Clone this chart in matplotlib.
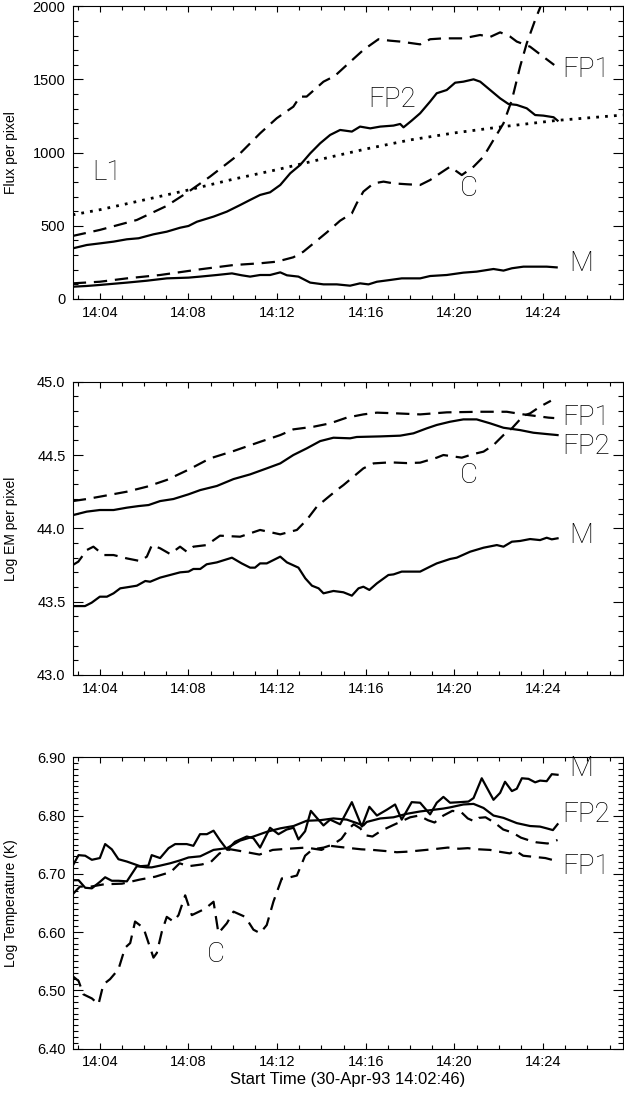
import matplotlib
matplotlib.use('Agg')
import matplotlib.pyplot as plt
from matplotlib.ticker import MultipleLocator, FixedLocator, FixedFormatter

# time axis: minutes after 14:00 UT (start 14:02:46)
X_RANGE = (2.767, 27.58)
TICK_MIN = [4, 8, 12, 16, 20, 24]
TICK_LABELS = ['14:04', '14:08', '14:12', '14:16', '14:20', '14:24']

# ---- panel 1: flux per pixel ----
L1_T = [2.77, 4.0, 6.0, 8.0, 10.0, 12.0, 14.4, 16.0, 18.0, 20.0, 22.2, 24.6, 27.6]
L1_FLUX = [575, 610, 677, 745, 818, 884, 970, 1025, 1087, 1135, 1178, 1220, 1257]

FP1_FLUX_T = [2.78, 4.0, 5.67, 7.0, 8.0, 8.97, 10.33, 11.23, 11.98, 12.73, 13.03, 13.33,
              14.09, 14.6, 15.14, 15.89, 16.57, 17.1, 17.55, 18.45, 18.9, 19.5, 20.4,
              21.16, 21.6, 22.06, 22.51, 22.81, 23.41, 24.0, 24.5]
FP1_FLUX = [431, 472, 540, 635, 733, 836, 995, 1132, 1235, 1314, 1383, 1383,
            1485, 1524, 1599, 1702, 1775, 1765, 1759, 1740, 1775, 1781, 1781,
            1804, 1790, 1822, 1793, 1759, 1724, 1656, 1599]

FP2_FLUX_T = [2.78, 3.41, 4.0, 4.62, 5.22, 5.75, 6.42, 7.02, 7.62, 8.0, 8.38, 9.13, 9.73,
              10.33, 10.78, 11.23, 11.68, 12.14, 12.59, 13.04, 13.49, 13.94, 14.39, 14.84,
              15.37, 15.74, 16.2, 16.65, 17.25, 17.55, 17.7, 18.07, 18.45, 18.9, 19.2,
              19.65, 20.03, 20.4, 20.86, 21.16, 21.61, 22.06, 22.43, 22.81, 23.26, 23.64,
              24.01, 24.47, 24.65]
FP2_FLUX = [346, 369, 380, 392, 408, 415, 442, 460, 487, 499, 528, 563, 597,
            642, 677, 711, 729, 779, 859, 916, 995, 1064, 1121, 1155,
            1144, 1178, 1166, 1178, 1185, 1196, 1173, 1219, 1269, 1349, 1406,
            1428, 1478, 1485, 1501, 1485, 1428, 1371, 1333, 1326, 1303, 1257,
            1253, 1242, 1219]

C_FLUX_T = [2.78, 4.0, 5.22, 6.72, 8.53, 10.03, 11.23, 11.98, 12.73, 13.18, 13.64, 14.24,
            14.84, 15.37, 15.59, 15.89, 16.35, 16.8, 17.25, 17.85, 18.45, 18.9, 19.35,
            19.8, 20.33, 20.86, 21.31, 21.76, 22.21, 22.59, 22.96, 23.26, 23.64, 24.0, 24.3]
C_FLUX = [107, 118, 141, 164, 203, 232, 244, 255, 285, 323, 380, 455,
          535, 585, 654, 734, 790, 802, 790, 784, 779, 813, 859,
          904, 847, 904, 973, 1087, 1200, 1360, 1588, 1747, 1907, 2043, 2150]

M_FLUX_T = [2.78, 3.41, 4.0, 5.22, 6.12, 7.02, 8.0, 8.53, 9.28, 9.96, 10.4, 10.78, 11.23,
            11.68, 12.14, 12.44, 12.96, 13.49, 14.09, 14.69, 15.29, 15.74, 16.12, 16.5,
            17.1, 17.62, 18.45, 18.9, 19.65, 20.4, 21.0, 21.76, 22.21, 22.59, 23.11,
            23.71, 24.16, 24.61]
M_FLUX = [84, 89, 96, 112, 125, 141, 146, 153, 164, 175, 162, 153, 164,
          164, 182, 162, 153, 112, 100, 100, 91, 107, 100, 118,
          130, 141, 141, 157, 164, 180, 187, 205, 194, 210, 221,
          221, 221, 216]

# ---- panel 2: log EM per pixel ----
FP1_EM_T = [2.78, 3.41, 4.0, 5.22, 6.12, 7.02, 8.0, 8.97, 10.03, 11.23, 12.14, 12.73,
            13.64, 14.39, 15.14, 15.89, 16.5, 17.4, 18.45, 19.65, 21.16, 22.36, 23.11,
            24.24, 24.5]
FP1_EM = [44.186, 44.2, 44.216, 44.25, 44.284, 44.33, 44.40, 44.477, 44.527, 44.59,
          44.636, 44.675, 44.693, 44.716, 44.755, 44.777, 44.789, 44.784, 44.777,
          44.791, 44.795, 44.795, 44.777, 44.755, 44.752]

FP2_EM_T = [2.78, 3.41, 4.0, 4.62, 5.22, 5.75, 6.2, 6.72, 7.32, 8.0, 8.53, 9.28, 10.03,
            10.78, 11.53, 12.14, 12.73, 13.33, 13.94, 14.54, 15.29, 15.59, 16.65, 17.55,
            18.15, 18.75, 19.2, 19.8, 20.4, 21.0, 21.61, 22.21, 22.96, 23.56, 24.16, 24.65]
FP2_EM = [44.09, 44.114, 44.125, 44.125, 44.141, 44.152, 44.159, 44.186, 44.2, 44.232,
          44.261, 44.289, 44.336, 44.368, 44.409, 44.443, 44.5, 44.545, 44.595, 44.618,
          44.614, 44.623, 44.627, 44.632, 44.648, 44.682, 44.705, 44.727, 44.743,
          44.743, 44.716, 44.686, 44.67, 44.652, 44.643, 44.636]

C_EM_T = [2.78, 3.03, 3.41, 3.71, 4.17, 4.62, 5.22, 5.82, 6.12, 6.35, 6.72, 7.17, 7.62,
          7.92, 8.22, 8.82, 9.42, 10.33, 11.23, 12.14, 12.89, 13.33, 13.79, 14.24, 14.69,
          14.99, 15.44, 15.89, 16.35, 17.1, 17.85, 18.45, 19.2, 19.5, 20.33, 20.86, 21.31,
          21.76, 22.21, 22.59, 23.11, 23.41, 23.86, 24.35]
C_EM = [43.75, 43.773, 43.852, 43.875, 43.818, 43.818, 43.795, 43.777, 43.807, 43.886,
        43.864, 43.825, 43.875, 43.841, 43.875, 43.886, 43.95, 43.943, 43.989, 43.959,
        43.989, 44.057, 44.148, 44.205, 44.261, 44.295, 44.352, 44.409, 44.443, 44.45,
        44.445, 44.448, 44.482, 44.5, 44.482, 44.507, 44.523, 44.568, 44.636, 44.682,
        44.768, 44.784, 44.83, 44.87]

M_EM_T = [2.78, 3.33, 3.63, 4.0, 4.32, 4.62, 4.92, 5.22, 5.67, 6.05, 6.27, 6.72, 7.17,
          7.62, 8.0, 8.22, 8.53, 8.82, 9.28, 9.96, 10.4, 10.78, 11.0, 11.23, 11.53,
          12.14, 12.44, 12.96, 13.27, 13.57, 13.87, 14.09, 14.54, 14.99, 15.37, 15.67,
          15.89, 16.16, 16.5, 17.02, 17.25, 17.62, 18.45, 18.9, 19.2, 19.8, 20.1, 20.71,
          21.31, 21.91, 22.21, 22.59, 22.96, 23.41, 23.86, 24.16, 24.39, 24.65]
M_EM = [43.47, 43.47, 43.493, 43.534, 43.534, 43.557, 43.591, 43.598, 43.609, 43.641,
        43.636, 43.664, 43.682, 43.7, 43.705, 43.723, 43.723, 43.755, 43.768, 43.8,
        43.761, 43.732, 43.732, 43.761, 43.761, 43.807, 43.768, 43.732, 43.659, 43.609,
        43.591, 43.557, 43.573, 43.564, 43.541, 43.591, 43.602, 43.58, 43.625, 43.682,
        43.686, 43.705, 43.705, 43.739, 43.761, 43.791, 43.8, 43.841, 43.868, 43.886,
        43.875, 43.909, 43.914, 43.927, 43.92, 43.936, 43.925, 43.932]

# ---- panel 3: log temperature ----
M_TEMP_T = [2.78, 3.04, 3.34, 3.64, 4.0, 4.24, 4.54, 4.84, 5.22, 5.82, 6.19, 6.34, 6.72,
            7.10, 7.40, 7.92, 8.22, 8.52, 8.83, 9.13, 9.43, 9.75, 10.1, 10.63, 10.93,
            11.23, 11.68, 12.06, 12.43, 12.74, 12.96, 13.26, 13.52, 13.79, 14.09, 14.39,
            14.84, 15.37, 15.82, 16.16, 16.5, 16.95, 17.32, 17.62, 18.07, 18.45, 18.9,
            19.2, 19.5, 19.8, 20.25, 20.63, 20.86, 21.23, 21.76, 22.06, 22.28, 22.59,
            22.81, 23.04, 23.34, 23.64, 23.86, 24.16, 24.39, 24.65]
M_TEMP = [6.714, 6.732, 6.731, 6.724, 6.727, 6.751, 6.742, 6.725, 6.721, 6.713, 6.714,
          6.732, 6.727, 6.744, 6.751, 6.751, 6.748, 6.768, 6.768, 6.774, 6.757, 6.741,
          6.755, 6.764, 6.761, 6.745, 6.779, 6.768, 6.776, 6.779, 6.759, 6.773, 6.808,
          6.796, 6.783, 6.793, 6.785, 6.823, 6.781, 6.815, 6.8, 6.81, 6.819, 6.793,
          6.823, 6.822, 6.802, 6.822, 6.832, 6.822, 6.823, 6.824, 6.83, 6.864, 6.827,
          6.839, 6.858, 6.842, 6.846, 6.864, 6.863, 6.857, 6.86, 6.859, 6.871, 6.87]

FP2_TEMP_T = [2.78, 3.04, 3.34, 3.64, 4.0, 4.24, 4.54, 4.84, 5.22, 5.67, 6.12, 6.34, 6.72,
              7.17, 7.62, 8.0, 8.53, 9.13, 9.73, 10.33, 10.93, 11.53, 12.14, 12.74, 13.33,
              13.94, 14.54, 15.14, 15.52, 15.89, 16.04, 16.65, 17.25, 17.85, 18.45, 19.5,
              19.8, 20.4, 20.86, 21.31, 21.76, 22.21, 22.81, 23.41, 23.86, 24.16, 24.44,
              24.65]
FP2_TEMP = [6.689, 6.689, 6.676, 6.675, 6.686, 6.694, 6.688, 6.688, 6.687, 6.713, 6.711,
            6.711, 6.714, 6.718, 6.723, 6.728, 6.73, 6.741, 6.744, 6.757, 6.764, 6.772,
            6.778, 6.782, 6.791, 6.792, 6.795, 6.793, 6.788, 6.783, 6.789, 6.795, 6.797,
            6.803, 6.807, 6.812, 6.814, 6.819, 6.82, 6.813, 6.8, 6.796, 6.787, 6.782,
            6.781, 6.778, 6.775, 6.785]

FP1_TEMP_T = [2.78, 3.1, 3.6, 4.2, 5.0, 5.8, 6.5, 7.2, 7.6, 8.0, 8.6, 9.0, 9.4, 9.9, 10.5,
              11.2, 11.8, 12.5, 13.3, 14.0, 14.39, 14.84, 15.3, 15.8, 16.3, 16.9, 17.4,
              17.9, 18.45, 19.0, 19.7, 20.2, 20.6, 21.1, 21.6, 22.0, 22.5, 22.73, 23.1,
              23.6, 24.1, 24.4, 24.65]
FP1_TEMP = [6.665, 6.678, 6.678, 6.682, 6.683, 6.69, 6.695, 6.703, 6.718, 6.713, 6.716,
            6.72, 6.735, 6.742, 6.738, 6.733, 6.741, 6.743, 6.745, 6.741, 6.748, 6.746,
            6.744, 6.742, 6.741, 6.739, 6.737, 6.738, 6.74, 6.742, 6.745, 6.743, 6.744,
            6.742, 6.741, 6.738, 6.735, 6.74, 6.731, 6.729, 6.727, 6.724, 6.721]

C_TEMP_T = [2.78, 3.04, 3.26, 3.64, 3.94, 4.16, 4.46, 4.84, 5.14, 5.37, 5.59, 5.97, 6.42,
            6.57, 6.80, 7.02, 7.32, 7.55, 7.85, 8.15, 8.75, 9.13, 9.35, 9.73, 10.03, 10.56,
            10.93, 11.23, 11.53, 11.83, 12.21, 12.58, 12.89, 13.26, 13.6, 14.1, 14.5,
            14.9, 15.2, 15.45, 15.75, 16.0, 16.3, 16.7, 17.2, 17.6, 18.0, 18.4, 18.8,
            19.1, 19.5, 19.9, 20.3, 20.6, 20.9, 21.1, 21.4, 21.8, 22.2, 22.6, 23.0,
            23.4, 23.7, 24.2, 24.65]
C_TEMP = [6.524, 6.516, 6.493, 6.486, 6.476, 6.51, 6.519, 6.536, 6.573, 6.581, 6.618,
          6.607, 6.556, 6.564, 6.601, 6.626, 6.618, 6.629, 6.663, 6.629, 6.64, 6.652,
          6.598, 6.615, 6.635, 6.626, 6.604, 6.598, 6.612, 6.652, 6.692, 6.694, 6.697,
          6.731, 6.742, 6.745, 6.75, 6.76, 6.776, 6.785, 6.778, 6.766, 6.764, 6.774,
          6.783, 6.79, 6.797, 6.8, 6.792, 6.788, 6.8, 6.808, 6.806, 6.795, 6.79, 6.796,
          6.797, 6.788, 6.776, 6.771, 6.762, 6.757, 6.754, 6.752, 6.758]

TICK_FONT = 'Liberation Sans'
LABEL_FONT = 'Roboto'

SOLID = dict(color='black', lw=1.6, solid_joinstyle='round')
DASHED = dict(color='black', lw=1.6, dashes=(6, 3.5))
DOTTED = dict(color='black', lw=2.0, dashes=(1, 2.2))


def style_axis(ax, ylim, ymajor, yminor, fmt):
    ax.set_xlim(*X_RANGE)
    ax.set_ylim(*ylim)
    ax.xaxis.set_major_locator(FixedLocator(TICK_MIN))
    ax.xaxis.set_major_formatter(FixedFormatter(TICK_LABELS))
    ax.xaxis.set_minor_locator(MultipleLocator(1))
    ax.yaxis.set_major_locator(MultipleLocator(ymajor))
    ax.yaxis.set_minor_locator(MultipleLocator(yminor))
    ax.yaxis.set_major_formatter(plt.FormatStrFormatter(fmt))
    ax.tick_params(which='both', direction='in', top=True, right=True, width=0.8,
                   labelsize=10.5, pad=5)
    ax.tick_params(axis='x', which='major', length=4.5)
    ax.tick_params(axis='x', which='minor', length=3)
    ax.tick_params(axis='y', which='major', length=7.5)
    ax.tick_params(axis='y', which='minor', length=3.8)
    for lab in ax.get_xticklabels() + ax.get_yticklabels():
        lab.set_family(TICK_FONT)
    for sp in ax.spines.values():
        sp.set_linewidth(0.8)


def tag(ax, x, y, s):
    # thin, IDL-like curve labels
    ax.text(x, y, s, fontsize=20, family=LABEL_FONT, fontweight='light',
            color='black', ha='left', va='center', clip_on=False)


fig = plt.figure(figsize=(6.24, 10.99), dpi=100)
left, width = 72.5 / 624, 550 / 624
ax1 = fig.add_axes([left, 1 - 299 / 1099, width, 292.7 / 1099])
ax2 = fig.add_axes([left, 1 - 675 / 1099, width, 293.3 / 1099])
ax3 = fig.add_axes([left, 1 - 1048.5 / 1099, width, 291.2 / 1099])

# flux
ax1.plot(L1_T, L1_FLUX, **DOTTED)
ax1.plot(FP1_FLUX_T, FP1_FLUX, **DASHED)
ax1.plot(FP2_FLUX_T, FP2_FLUX, **SOLID)
ax1.plot(C_FLUX_T, C_FLUX, **DASHED)
ax1.plot(M_FLUX_T, M_FLUX, **SOLID)
style_axis(ax1, (0, 2000), 500, 100, '%d')
ax1.set_ylabel('Flux per pixel', family=TICK_FONT, fontsize=10)
tag(ax1, 3.65, 861, 'L1')
tag(ax1, 16.1, 1360, 'FP2')
tag(ax1, 24.85, 1565, 'FP1')
tag(ax1, 20.25, 758, 'C')
tag(ax1, 25.2, 240, 'M')

# emission measure
ax2.plot(FP1_EM_T, FP1_EM, **DASHED)
ax2.plot(FP2_EM_T, FP2_EM, **SOLID)
ax2.plot(C_EM_T, C_EM, **DASHED)
ax2.plot(M_EM_T, M_EM, **SOLID)
style_axis(ax2, (43.0, 45.0), 0.5, 0.1, '%.1f')
ax2.set_ylabel('Log EM per pixel', family=TICK_FONT, fontsize=10)
tag(ax2, 24.85, 44.757, 'FP1')
tag(ax2, 24.85, 44.557, 'FP2')
tag(ax2, 20.25, 44.359, 'C')
tag(ax2, 25.2, 43.95, 'M')

# temperature
ax3.plot(M_TEMP_T, M_TEMP, **SOLID)
ax3.plot(FP2_TEMP_T, FP2_TEMP, **SOLID)
ax3.plot(FP1_TEMP_T, FP1_TEMP, **DASHED)
ax3.plot(C_TEMP_T, C_TEMP, **DASHED)
style_axis(ax3, (6.4, 6.9), 0.1, 0.01, '%.2f')
ax3.set_ylabel('Log Temperature (K)', family=TICK_FONT, fontsize=10)
ax3.set_xlabel('Start Time (30-Apr-93 14:02:46)', family=TICK_FONT, fontsize=12,
               labelpad=2)
tag(ax3, 25.2, 6.881, 'M')
tag(ax3, 24.85, 6.802, 'FP2')
tag(ax3, 24.85, 6.713, 'FP1')
tag(ax3, 8.83, 6.561, 'C')

for ax in (ax1, ax2, ax3):
    ax.yaxis.set_label_coords(-0.099, 0.5)

fig.savefig('out.png', dpi=100)
